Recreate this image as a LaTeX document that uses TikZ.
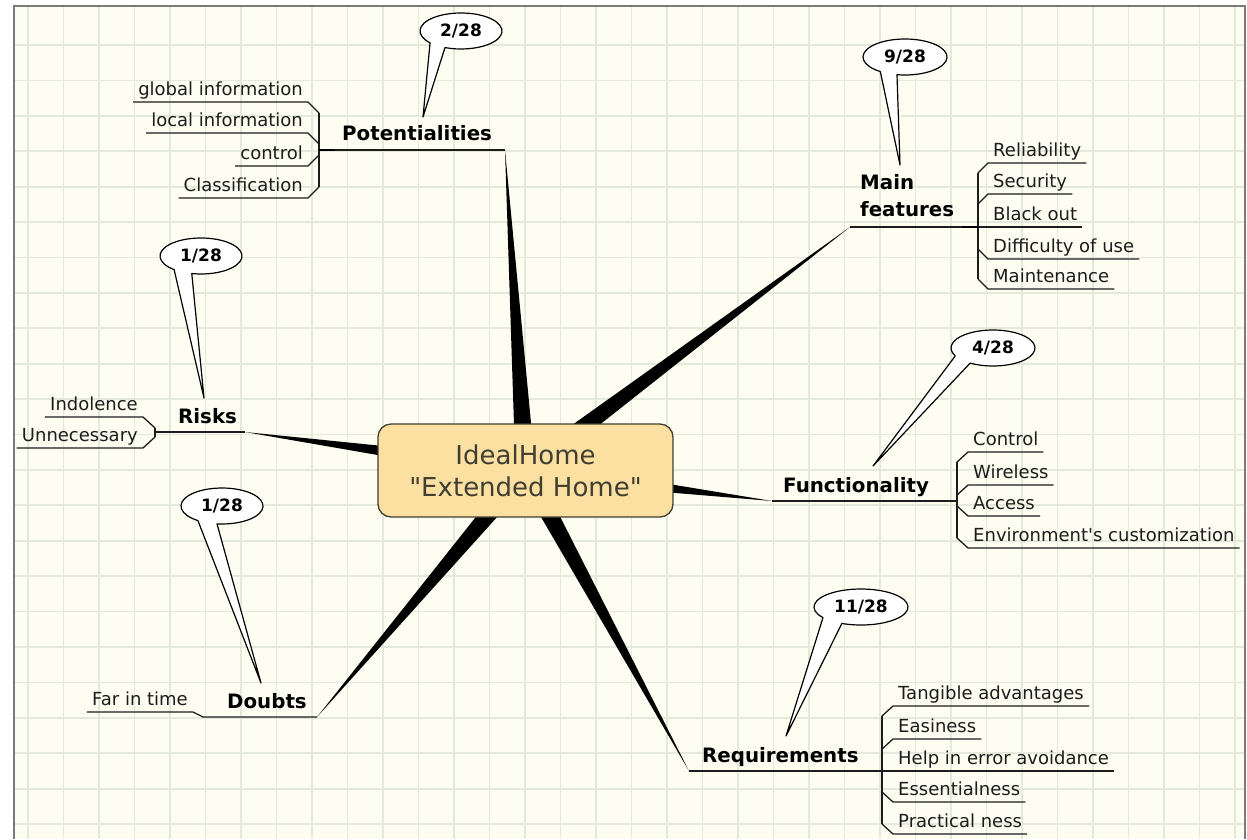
\documentclass[tikz,border=0pt]{standalone}
\usepackage{fontspec}
\newfontfamily\mapfont{DejaVu Sans}
\usetikzlibrary{positioning, calc}
\definecolor{PaperCream}{HTML}{FDFEF1}
\definecolor{GridGreen}{HTML}{E4EADB}
\definecolor{FrameGray}{HTML}{7A7A7A}
\definecolor{HubFill}{HTML}{FCE0A2}
\definecolor{HubInk}{HTML}{403E30}
\definecolor{LeafInk}{HTML}{1C1C1C}

\tikzset{
  hub/.style={draw=HubInk, line width=1.3pt, fill=HubFill, rounded corners=13pt,
    minimum width=295pt, minimum height=93pt, align=center, text=HubInk,
    font=\mapfont\fontsize{26}{32}\selectfont},
  topic/.style={inner sep=0pt, align=left, font=\mapfont\fontsize{19.8}{27}\selectfont\bfseries},
  leaf/.style={inner xsep=5pt, inner ysep=6pt, text depth=0pt, text=LeafInk,
    font=\mapfont\fontsize{18}{20}\selectfont},
  tally/.style={inner sep=0pt, font=\mapfont\fontsize{17}{19}\selectfont\bfseries},
  wire/.style={draw=LeafInk, line width=1.3pt},
  spoke/.style={fill=black},
  callout/.style={draw=black, fill=white, line width=1.2pt, line join=round},
  gridline/.style={draw=GridGreen, line width=1.8pt}
}

\begin{document}
\begin{tikzpicture}[x=1pt, y=-1pt]
  \useasboundingbox (0,0) rectangle (1247,839);
  % Paper and grid
  \fill[white] (0,0) rectangle (1247,839);
  \fill[PaperCream] (14,6) rectangle (1245,839);
  \begin{scope}
    \clip (14,6) rectangle (1245,839);
    \foreach \i in {0,...,34}
      \draw[gridline] (28+35.5*\i,6) -- (28+35.5*\i,839);
    \foreach \j in {1,...,23}
      \draw[gridline] (14,9.6+35.41*\j) -- (1245,9.6+35.41*\j);
  \end{scope}
  \draw[FrameGray, line width=2pt] (14,839) -- (14,6) -- (1245,6) -- (1245,839);

  % Central topic with its spokes
  \coordinate (hubc) at (525.5,470.5);
  \coordinate (pot-knee) at (505,150);
  \coordinate (mf-knee) at (850,227);
  \coordinate (risk-knee) at (245,432);
  \coordinate (func-knee) at (772,501);
  \coordinate (doubt-knee) at (317,717);
  \coordinate (req-knee) at (689,771);
  \foreach \k in {pot,mf,risk,func,doubt,req}
    \fill[spoke] ($(hubc)!10pt!90:(\k-knee)$) -- (\k-knee) -- ($(hubc)!10pt!-90:(\k-knee)$) -- cycle;
  \node[hub] (hub) at (hubc) {IdealHome\\"Extended Home"};

  % Main topics
  \node[topic, anchor=base west] (pot) at (342,140) {Potentialities};
  \node[topic, anchor=south west] (mf) at (860,217) {Main\\features};
  \node[topic, anchor=base west] (risk) at (178,423) {Risks};
  \node[topic, anchor=base west] (func) at (783,492) {Functionality};
  \node[topic, anchor=base west] (doubt) at (227,708) {Doubts};
  \node[topic, anchor=base west] (req) at (702,762) {Requirements};

  % Potentialities
  \coordinate (pot-fork) at (319,150);
  \foreach \y/\e/\txt [count=\i] in {102/113/global information, 133/144/local information,
      166/155/control, 198/187/Classification} {
    \node[leaf, anchor=south east] (pot-\i) at (308,\y) {\txt};
    \draw[wire] (319,\e) -- (pot-\i.south east) -- (pot-\i.south west);
  }
  \draw[wire] (319,113) -- (319,187);
  \draw[wire] (pot-fork) -- (pot-knee);
  \draw[line width=2.6pt] (pot-fork) -- ++(16,0);

  % Main features
  \coordinate (mf-fork) at (978,227);
  \foreach \y/\e/\txt [count=\i] in {163/173/Reliability, 194/204/Security, 227/227/Black out,
      259/249/Difficulty of use, 289/279/Maintenance} {
    \node[leaf, anchor=south west] (mf-\i) at (988,\y) {\txt};
    \draw[wire] (978,\e) -- (mf-\i.south west) -- (mf-\i.south east);
  }
  \draw[wire] (978,173) -- (978,279);
  \draw[wire] (mf-fork) -- (mf-knee);
  \draw[line width=2.6pt] (mf-fork) -- ++(-16,0);

  % Risks
  \coordinate (risk-fork) at (155,432);
  \foreach \y/\e/\txt [count=\i] in {417/428/Indolence, 448/437/Unnecessary} {
    \node[leaf, anchor=south east] (risk-\i) at (143,\y) {\txt};
    \draw[wire] (155,\e) -- (risk-\i.south east) -- (risk-\i.south west);
  }
  \draw[wire] (155,428) -- (155,437);
  \draw[wire] (risk-fork) -- (risk-knee);

  % Functionality
  \coordinate (func-fork) at (957,501);
  \foreach \y/\e/\txt [count=\i] in {452/462/Control, 485/495/Wireless, 516/506/Access,
      548/538/Environment's customization} {
    \node[leaf, anchor=south west] (func-\i) at (968,\y) {\txt};
    \draw[wire] (957,\e) -- (func-\i.south west) -- (func-\i.south east);
  }
  \draw[wire] (957,462) -- (957,538);
  \draw[wire] (func-fork) -- (func-knee);

  % Doubts
  \coordinate (doubt-fork) at (203,717);
  \node[leaf, anchor=south east] (doubt-1) at (193,712) {Far in time};
  \draw[wire] (doubt-knee) -- (doubt-fork) -- (doubt-1.south east) -- (doubt-1.south west);

  % Requirements
  \coordinate (req-fork) at (882,771);
  \foreach \y/\e/\txt [count=\i] in {706/716/Tangible advantages, 739/749/Easiness,
      771/771/Help in error avoidance, 802/792/Essentialness, 834/824/Practical ness} {
    \node[leaf, anchor=south west] (req-\i) at (893,\y) {\txt};
    \draw[wire] (882,\e) -- (req-\i.south west) -- (req-\i.south east);
  }
  \draw[wire] (882,716) -- (882,824);
  \draw[wire] (req-fork) -- (req-knee);

  % Vote callouts
  \foreach \n/\c/\rx/\a/\b/\tip/\txt in {
      pot/{461,31}/41/139/113/{423,117}/{2/28},
      mf/{905,57}/42/126/101/{900,165}/{9/28},
      risk/{201,256}/41/131/103/{204,398}/{1/28},
      func/{993,348}/42/154/123/{873,466}/{4/28},
      doubt/{222,506}/41/126/97/{261,683}/{1/28},
      req/{861,607}/47/144/114/{786,736}/{11/28}} {
    \coordinate (b-\n) at (\c);
    \draw[callout] (\tip) -- ($(b-\n)+({\rx*cos(\a)},{18*sin(\a)})$)
      arc[start angle=\a, end angle=\b+360, x radius=\rx, y radius=18] -- cycle;
    \node[tally] (t-\n) at (b-\n) {\txt};
  }
\end{tikzpicture}
\end{document}
